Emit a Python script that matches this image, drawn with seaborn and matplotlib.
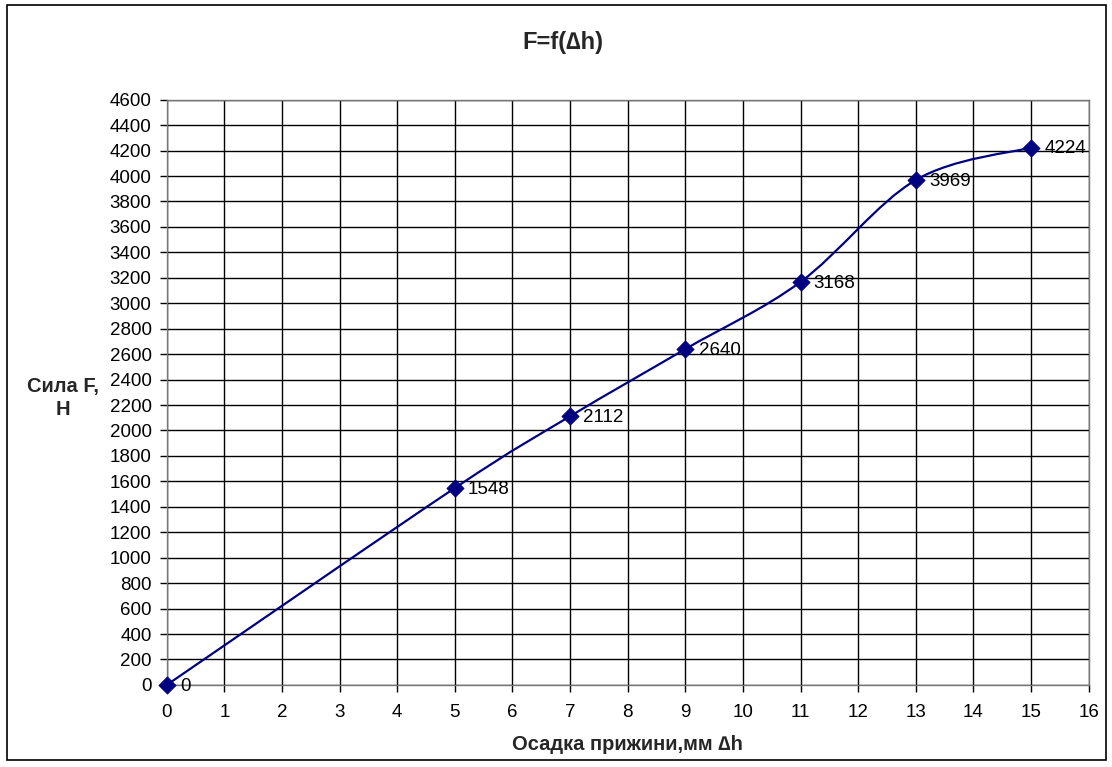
import numpy as np
import pandas as pd
import seaborn as sns
import matplotlib.pyplot as plt
from matplotlib.path import Path
from matplotlib.patches import PathPatch, Rectangle

# data
deflection_mm = [0, 5, 7, 9, 11, 13, 15]
force_n = [0, 1548, 2112, 2640, 3168, 3969, 4224]
x_ticks = list(range(0, 17))
y_ticks = list(range(0, 4601, 200))

sns.set_theme(style='white')
plt.rcParams['font.family'] = ['Liberation Sans', 'DejaVu Sans']

df = pd.DataFrame({'dh': deflection_mm, 'F': force_n})

fig = plt.figure(figsize=(11.12, 7.67), dpi=100)
ax = fig.add_axes([0.150, 0.107, 0.829, 0.763])

# excel-like smoothed line: cubic bezier segments through the data points
pts = np.column_stack([df['dh'], df['F']]).astype(float)
ext = np.vstack([pts[0], pts, pts[-1]])
verts = [pts[0]]
codes = [Path.MOVETO]
for i in range(len(pts) - 1):
    p0, p1, p2, p3 = ext[i], ext[i + 1], ext[i + 2], ext[i + 3]
    c1 = p1 + (p2 - p0) / 6.0
    c2 = p2 - (p3 - p1) / 6.0
    verts += [c1, c2, p2]
    codes += [Path.CURVE4] * 3
ax.add_patch(PathPatch(Path(verts, codes), facecolor='none', edgecolor='#000080',
                       lw=1.6, zorder=3, clip_on=False))

sns.scatterplot(data=df, x='dh', y='F', marker='D', s=75, color='#000080',
                edgecolor='#000080', ax=ax, zorder=4, clip_on=False)

for x, y in zip(deflection_mm, force_n):
    ax.annotate(str(y), (x, y), xytext=(9.5, -0.8), textcoords='offset points',
                ha='left', va='center', fontsize=13.5, color='black')

ax.set_xlim(0, 16)
ax.set_ylim(0, 4600)
ax.set_xticks(x_ticks)
ax.set_yticks(y_ticks)
ax.tick_params(axis='both', labelsize=13.5, colors='black', length=5, width=1,
               direction='out', bottom=True, left=True)
ax.tick_params(axis='x', pad=9)
ax.tick_params(axis='y', pad=6)
ax.grid(True, color='black', lw=1)
for s in ax.spines.values():
    s.set_color('#777777')
    s.set_linewidth(1)

ax.set_xlabel('Осадка прижини,мм ∆h', fontsize=14.5, fontweight='bold', labelpad=10)
ax.set_ylabel('')
fig.text(0.057, 0.481, 'Сила F,\nН', ha='center', va='center', fontsize=14.5,
         fontweight='bold', linespacing=1.3)
fig.text(0.506, 0.945, 'F=f(∆h)', ha='center', va='center', fontsize=17, fontweight='bold')

fig.patches.append(Rectangle((0.006, 0.009), 0.989, 0.984, transform=fig.transFigure,
                             fill=False, edgecolor='black', lw=1.2))

fig.savefig('out.png', dpi=100)
